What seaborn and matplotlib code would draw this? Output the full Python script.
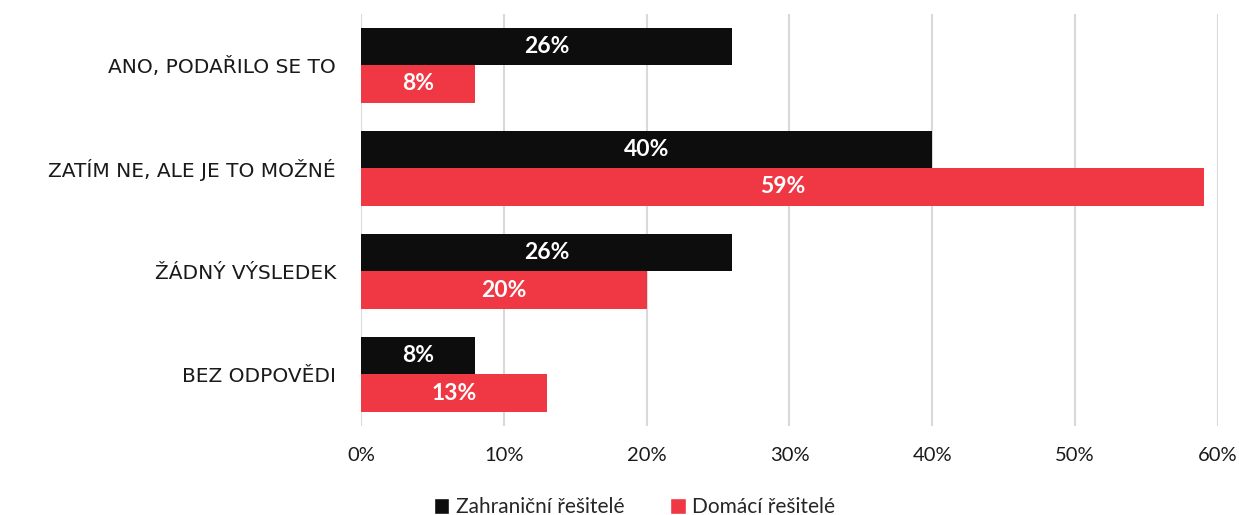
import matplotlib
matplotlib.use("Agg")
import matplotlib.pyplot as plt
import seaborn as sns
import pandas as pd
from matplotlib.patches import Patch

categories = ["ANO, PODAŘILO SE TO", "ZATÍM NE, ALE JE TO MOŽNÉ", "ŽÁDNÝ VÝSLEDEK", "BEZ ODPOVĚDI"]
series_names = ["Zahraniční řešitelé", "Domácí řešitelé"]
zahranicni = [26, 40, 26, 8]
domaci = [8, 59, 20, 13]
xticks = [0, 10, 20, 30, 40, 50, 60]
colors = ["#0d0d0d", "#f03744"]

df = pd.DataFrame({
    "cat": categories * 2,
    "series": [series_names[0]] * 4 + [series_names[1]] * 4,
    "val": zahranicni + domaci,
})

sns.set_theme(style="white")
plt.rcParams["font.family"] = ["Lato", "DejaVu Sans"]

fig = plt.figure(figsize=(12.39, 5.15), dpi=100)
ax = fig.add_axes([0.2914, 0.1728, 0.983 - 0.2914, 0.973 - 0.1728])

sns.barplot(data=df, y="cat", x="val", hue="series", orient="h",
            palette=colors, width=0.72, gap=0, ax=ax, legend=False,
            saturation=1, edgecolor="none", errorbar=None)

for cont in ax.containers:
    ax.bar_label(cont, labels=[f"{v:.0f}%" for v in cont.datavalues],
                 label_type="center", color="white", fontsize=16.5, fontweight="bold")

ax.set_xlim(0, 60)
ax.set_xticks(xticks)
ax.set_xticklabels([f"{t}%" for t in xticks], fontsize=14.5, color="#1a1a1a")
ax.xaxis.grid(True, color="#d9d9d9", linewidth=1.5)
ax.set_axisbelow(True)
ax.set_ylabel("")
ax.set_xlabel("")
ax.tick_params(axis="y", length=0, pad=18, labelcolor="#1a1a1a")
for lbl in ax.get_yticklabels():
    lbl.set_family(["DejaVu Sans"])
    lbl.set_fontsize(14.5)
ax.tick_params(axis="x", length=0, pad=15)
for s in ax.spines.values():
    s.set_visible(False)

handles = [Patch(facecolor=c, label=n) for c, n in zip(colors, series_names)]
fig.legend(handles=handles, loc="center", bbox_to_anchor=(0.512, 0.015), ncol=2,
           frameon=False, fontsize=15, handlelength=0.75, handleheight=0.75,
           handletextpad=0.3, columnspacing=2.2)

fig.savefig("out.png", dpi=100)
